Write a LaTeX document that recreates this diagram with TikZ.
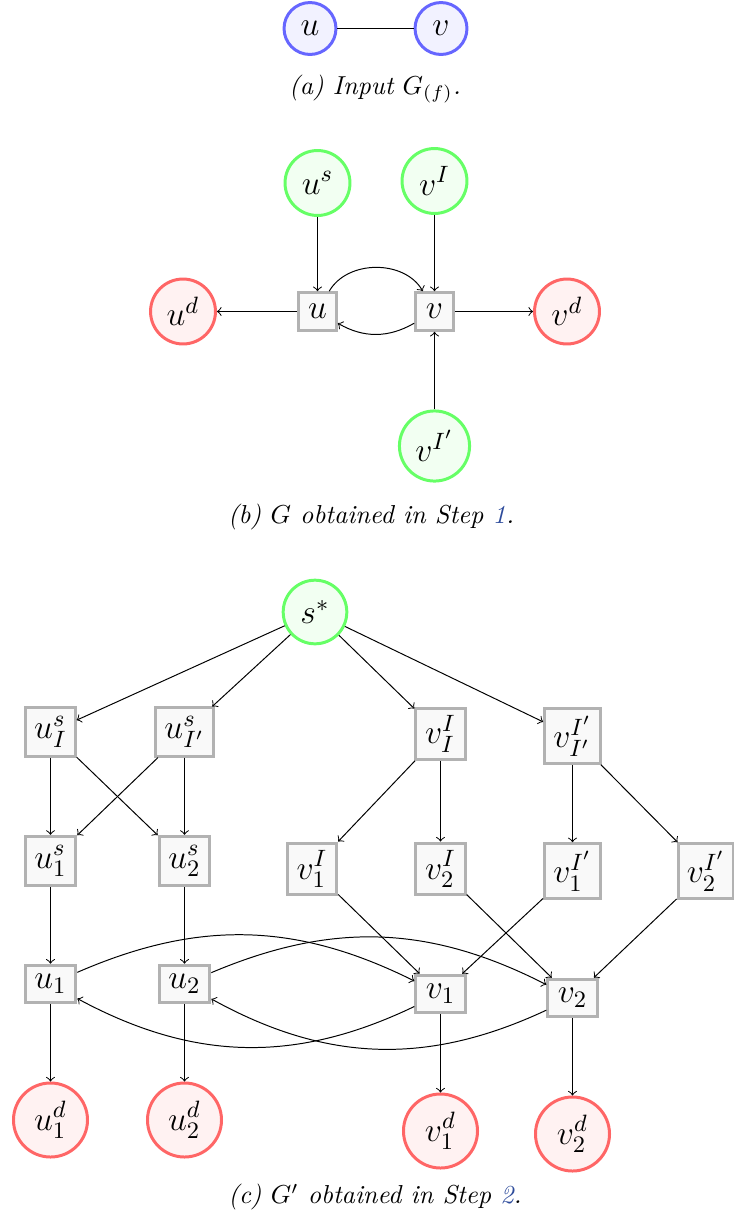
\RequirePackage{fix-cm}
\documentclass[tikz,border=0pt]{standalone}
\usepackage{amsmath}
\definecolor{linkblue}{RGB}{45,75,155}
\begin{document}
\begin{tikzpicture}[x=0.385pt,y=-0.385pt,
  every node/.style={font=\fontsize{13}{15}\selectfont},
  bc/.style={circle,draw=blue!60,fill=blue!5,line width=1.15pt,inner sep=0pt},
  gc/.style={circle,draw=green!60,fill=green!5,line width=1.15pt,inner sep=0pt},
  rc/.style={circle,draw=red!60,fill=red!5,line width=1.15pt,inner sep=0pt},
  gb/.style={rectangle,draw=gray!60,fill=gray!5,line width=1.15pt,inner sep=0pt},
  captext/.style={font=\fontsize{10}{12}\selectfont\itshape},
  arr/.style={->,line width=0.38pt},
]
\useasboundingbox (0,0) rectangle (733,1220);
% (a)
\node[bc,minimum size=20pt] (au) at (310,28.5) {$u$};
\node[bc,minimum size=20pt] (av) at (441,28.5) {$v$};
\draw[line width=0.38pt] (au) -- (av);
\node[captext] (capa) at (375,89) {(a) Input $G_{(f)}$.};
% (b)
\node[gc,minimum size=25pt] (bus) at (317.5,183) {$u^s$};
\node[gc,minimum size=25pt] (bvI) at (434.5,181) {$v^I$};
\node[rc,minimum size=25pt] (bud) at (183,311.5) {$u^d$};
\node[rc,minimum size=25pt] (bvd) at (567,311.5) {$v^d$};
\node[gb,minimum size=14.5pt] (bu) at (317.5,311.5) {$u$};
\node[gb,minimum size=14.5pt] (bv) at (434.5,311.5) {$v$};
\node[gc,minimum size=27pt] (bvIp) at (434.5,446) {$v^{I'}$};
\draw[arr] (bus) -- (bu);
\draw[arr] (bvI) -- (bv);
\draw[arr] (bvIp) -- (bv);
\draw[arr] (bu) -- (bud);
\draw[arr] (bv) -- (bvd);
\draw[arr] (bu) to[bend left=60] (bv);
\draw[arr] (bv) to[bend left=30] (bu);
\node[captext] (capb) at (371,517) {(b) $G$ obtained in Step \textcolor{linkblue}{1}.};
% (c)
\node[gc,minimum size=24.5pt] (s) at (315,612) {$s^*$};
\node[gb,minimum width=19pt,minimum height=18.5pt] (uIs) at (50.5,732) {$u^s_I$};
\node[gb,minimum width=22pt,minimum height=18.5pt] (uIps) at (184.5,732) {$u^s_{I'}$};
\node[gb,minimum width=19pt,minimum height=19.5pt] (vII) at (440.5,734) {$v^I_I$};
\node[gb,minimum width=21.5pt,minimum height=21pt] (vIpIp) at (572.5,736) {$v^{I'}_{I'}$};
\node[gb,minimum width=19.5pt,minimum height=19pt] (u1s) at (50.5,861) {$u^s_1$};
\node[gb,minimum width=19.5pt,minimum height=19pt] (u2s) at (184.5,861) {$u^s_2$};
\node[gb,minimum width=19pt,minimum height=20pt] (v1I) at (312,869) {$v^I_1$};
\node[gb,minimum width=19pt,minimum height=20pt] (v2I) at (440.5,869) {$v^I_2$};
\node[gb,minimum width=21.5pt,minimum height=21pt] (v1Ip) at (572.5,871) {$v^{I'}_1$};
\node[gb,minimum width=21.5pt,minimum height=21pt] (v2Ip) at (706,871) {$v^{I'}_2$};
\node[gb,minimum width=19.5pt,minimum height=14.5pt] (u1) at (50.5,984) {$u_1$};
\node[gb,minimum width=19.5pt,minimum height=14.5pt] (u2) at (184.5,984) {$u_2$};
\node[gb,minimum width=19pt,minimum height=14.5pt] (v1) at (440.5,994) {$v_1$};
\node[gb,minimum width=19pt,minimum height=14.5pt] (v2) at (572.5,998) {$v_2$};
\node[rc,minimum size=28.5pt] (u1d) at (50.5,1120) {$u^d_1$};
\node[rc,minimum size=28.5pt] (u2d) at (184.5,1120) {$u^d_2$};
\node[rc,minimum size=28.5pt] (v1d) at (440.5,1131) {$v^d_1$};
\node[rc,minimum size=28.5pt] (v2d) at (572.5,1134) {$v^d_2$};
\draw[arr] (s) -- (uIs);
\draw[arr] (s) -- (uIps);
\draw[arr] (s) -- (vII);
\draw[arr] (s) -- (vIpIp);
\draw[arr] (uIs) -- (u1s);
\draw[arr] (uIs) -- (u2s);
\draw[arr] (uIps) -- (u1s);
\draw[arr] (uIps) -- (u2s);
\draw[arr] (vII) -- (v1I);
\draw[arr] (vII) -- (v2I);
\draw[arr] (vIpIp) -- (v1Ip);
\draw[arr] (vIpIp) -- (v2Ip);
\draw[arr] (u1s) -- (u1);
\draw[arr] (u2s) -- (u2);
\draw[arr] (v1I) -- (v1);
\draw[arr] (v2I) -- (v2);
\draw[arr] (v1Ip) -- (v1);
\draw[arr] (v2Ip) -- (v2);
\draw[arr] (u1) to[bend left=25] (v1);
\draw[arr] (v1) to[bend left=27] (u1);
\draw[arr] (u2) to[bend left=25] (v2);
\draw[arr] (v2) to[bend left=27] (u2);
\draw[arr] (u1) -- (u1d);
\draw[arr] (u2) -- (u2d);
\draw[arr] (v1) -- (v1d);
\draw[arr] (v2) -- (v2d);
\node[captext] (capc) at (375,1197) {(c) $G'$ obtained in Step \textcolor{linkblue}{2}.};
\end{tikzpicture}
\end{document}
